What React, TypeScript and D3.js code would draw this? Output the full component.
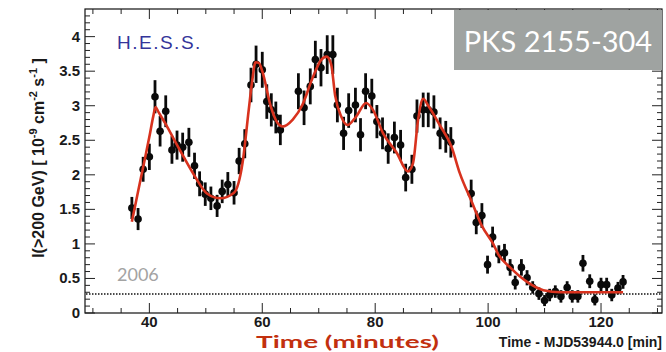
import React, { Component } from "react";
import * as d3 from "d3";

// flux points (minutes after MJD53944.0, 10^-9 cm^-2 s^-1)
const times = [36.9, 38.0, 38.9, 40.0, 41.0, 41.9, 42.9, 44.0, 44.9, 45.9,
  47.0, 48.0, 48.9, 49.9, 50.9, 52.0, 52.9, 53.9, 55.0, 55.9,
  56.9, 58.0, 58.9, 60.0, 60.8, 61.6, 62.4, 63.2, 66.4, 67.4,
  68.5, 69.4, 70.4, 71.5, 72.5, 73.3, 74.4, 75.3, 76.5, 77.4,
  78.3, 79.4, 80.3, 81.3, 82.3, 83.4, 84.5, 85.4, 86.5, 87.4,
  88.5, 89.4, 90.4, 91.5, 92.5, 93.4, 97.0, 97.9, 98.9, 99.9,
  100.8, 101.9, 102.9, 103.9, 104.8, 105.9, 106.9, 107.9, 109.0, 110.0,
  110.9, 111.9, 112.9, 114.0, 114.9, 115.9, 116.8, 118.0, 118.9, 120.0,
  121.0, 121.9, 123.0, 123.9];
const flux = [1.52, 1.36, 2.08, 2.26, 3.13, 2.63, 2.92, 2.36, 2.43, 2.40,
  2.47, 2.13, 1.87, 1.72, 1.66, 1.55, 1.76, 1.86, 1.74, 2.20,
  2.45, 3.30, 3.60, 3.52, 3.06, 2.94, 2.83, 2.65, 3.21, 2.97,
  3.28, 3.67, 3.55, 3.74, 3.74, 3.01, 2.60, 2.93, 3.01, 2.58,
  3.21, 3.14, 2.77, 2.60, 2.38, 2.54, 2.43, 1.96, 2.08, 2.85,
  2.94, 2.94, 2.91, 2.60, 2.55, 2.47, 1.73, 1.31, 1.41, 0.70,
  1.10, 0.85, 0.87, 0.66, 0.44, 0.66, 0.51, 0.37, 0.28, 0.18,
  0.26, 0.31, 0.24, 0.37, 0.24, 0.24, 0.72, 0.46, 0.19, 0.41,
  0.41, 0.26, 0.36, 0.45];
const errs = [0.16, 0.16, 0.18, 0.19, 0.24, 0.22, 0.23, 0.20, 0.21, 0.21,
  0.21, 0.19, 0.18, 0.17, 0.17, 0.16, 0.17, 0.18, 0.17, 0.19,
  0.21, 0.25, 0.27, 0.26, 0.25, 0.24, 0.23, 0.22, 0.26, 0.25,
  0.26, 0.27, 0.27, 0.28, 0.28, 0.25, 0.24, 0.25, 0.25, 0.24,
  0.26, 0.25, 0.24, 0.23, 0.22, 0.23, 0.22, 0.20, 0.21, 0.24,
  0.25, 0.25, 0.24, 0.23, 0.23, 0.22, 0.20, 0.17, 0.18, 0.13,
  0.15, 0.13, 0.13, 0.12, 0.10, 0.12, 0.11, 0.09, 0.09, 0.08,
  0.09, 0.09, 0.09, 0.09, 0.09, 0.09, 0.12, 0.10, 0.08, 0.10,
  0.10, 0.09, 0.09, 0.10];

// fitted model curve
const fitTimes = [36.9, 38.0, 39.0, 40.0, 40.7, 41.1, 41.6, 43.0, 44.5, 46.0,
  47.9, 50.2, 52.6, 55.0, 56.5, 57.6, 58.2, 58.8,
  59.4, 60.0, 61.5, 62.7, 63.6, 65.4, 67.1, 68.9, 70.4, 71.4,
  72.2, 72.9, 74.0, 75.1, 76.6, 78.4, 79.6, 81.4, 83.8, 85.8,
  86.7, 87.6, 88.5, 89.4, 91.5, 93.5, 95.0, 97.1, 98.9, 100.9, 101.8,
  103.9, 106.9, 109.8, 112.8, 118.0, 123.9];
const fitFlux = [1.32, 1.76, 2.15, 2.55, 2.85, 2.98, 2.91, 2.72, 2.49, 2.27,
  2.00, 1.73, 1.66, 1.74, 2.17, 2.94, 3.35, 3.63,
  3.62, 3.50, 2.99, 2.75, 2.70, 2.80, 3.01, 3.40, 3.66, 3.71,
  3.60, 3.15, 2.84, 2.72, 2.84, 3.04, 2.94, 2.60, 2.32, 2.05,
  2.17, 2.80, 3.10, 3.00, 2.71, 2.41, 2.02, 1.61, 1.26, 1.00, 0.85,
  0.66, 0.45, 0.33, 0.30, 0.30, 0.30];

const xTicks = [40, 60, 80, 100, 120];
const yTicks = [0, 0.5, 1, 1.5, 2, 2.5, 3, 3.5, 4];
const yTickLabels = ["0", "0.5", "1", "1.5", "2", "2.5", "3", "3.5", "4"];
const baseline2006 = 0.275;

class App extends Component {
  svgRef = React.createRef<SVGSVGElement>();

  componentDidMount() {
    var left = 85, right = 662, top = 9, bottom = 313;
    var svg = d3.select(this.svgRef.current);
    svg.selectAll("*").remove();

    const x = d3.scaleLinear().domain([28.6, 130.8]).range([left, right]);
    const y = d3.scaleLinear().domain([0, 4.4]).range([bottom, top]);

    // frame
    svg.append("rect").attr("x", left).attr("y", top)
      .attr("width", right - left).attr("height", bottom - top)
      .attr("fill", "white").attr("stroke", "#111").attr("stroke-width", 1.2);

    // ticks on all four sides, pointing inward
    var xMinor = d3.range(30, 131, 5);
    var g = svg.append("g").attr("stroke", "#222").attr("stroke-width", 1);
    xMinor.forEach(function (t) {
      var len = t % 20 === 0 ? 10 : 5;
      g.append("line").attr("x1", x(t)).attr("x2", x(t)).attr("y1", bottom).attr("y2", bottom - len);
      g.append("line").attr("x1", x(t)).attr("x2", x(t)).attr("y1", top).attr("y2", top + len);
    });
    var yMinor = d3.range(0, 44).map(function (i) { return i / 10; });
    yMinor.forEach(function (v, i) {
      var len = i % 5 === 0 ? 10 : 5;
      g.append("line").attr("y1", y(v)).attr("y2", y(v)).attr("x1", left).attr("x2", left + len);
      g.append("line").attr("y1", y(v)).attr("y2", y(v)).attr("x1", right).attr("x2", right - len);
    });

    // tick labels
    svg.selectAll(".xl").data(xTicks).join("text").attr("class", "xl")
      .attr("x", function (d) { return x(d); }).attr("y", 327)
      .attr("text-anchor", "middle")
      .style("font", "bold 15px 'Liberation Sans', Arial, sans-serif").attr("fill", "#1a1a1a")
      .text(function (d) { return d; });
    svg.selectAll(".yl").data(yTicks).join("text").attr("class", "yl")
      .attr("x", 80).attr("y", function (d) { return y(d) + 5; })
      .attr("text-anchor", "end")
      .style("font", "bold 15px 'Liberation Sans', Arial, sans-serif").attr("fill", "#1a1a1a")
      .text(function (d, i) { return yTickLabels[i]; });

    // dotted 2006 baseline
    svg.append("line").attr("x1", left + 1).attr("x2", right - 1)
      .attr("y1", y(baseline2006)).attr("y2", y(baseline2006))
      .attr("stroke", "#111").attr("stroke-width", 1.5).attr("stroke-dasharray", "1.5,1.5");

    svg.append("text").attr("x", 117).attr("y", 281)
      .style("font", "18px Lato, 'Open Sans', sans-serif").attr("fill", "#a3a3a3").text("2006");

    svg.append("text").attr("x", 117).attr("y", 49)
      .style("font", "19px 'Liberation Sans', Arial, sans-serif").style("letter-spacing", "1.5px")
      .attr("fill", "#34349a").text("H.E.S.S.");

    // error bars + points
    const pts = times.map(function (t, i) { return { t: t, f: flux[i], e: errs[i] }; });
    svg.selectAll(".eb").data(pts).join("line").attr("class", "eb")
      .attr("x1", function (d) { return x(d.t); }).attr("x2", function (d) { return x(d.t); })
      .attr("y1", function (d) { return y(d.f - d.e); }).attr("y2", function (d) { return y(d.f + d.e); })
      .attr("stroke", "#0a0a0a").attr("stroke-width", 2.8);
    svg.selectAll(".pt").data(pts).join("circle").attr("class", "pt")
      .attr("cx", function (d) { return x(d.t); }).attr("cy", function (d) { return y(d.f); })
      .attr("r", 3.8).attr("fill", "#0a0a0a");

    // fit curve
    const line = d3.line<number>()
      .x(function (d) { return x(d); })
      .y(function (d, i) { return y(fitFlux[i]); })
      .curve(d3.curveMonotoneX);
    svg.append("path").attr("d", line(fitTimes))
      .attr("fill", "none").attr("stroke", "#d8321e").attr("stroke-width", 2.6)
      .attr("stroke-linejoin", "round");

    // source box
    svg.append("rect").attr("x", 454).attr("y", 10).attr("width", 208).attr("height", 60)
      .attr("fill", "#9fa3a1");
    svg.append("text").attr("x", 558).attr("y", 52).attr("text-anchor", "middle")
      .style("font", "29px Lato, 'Open Sans', sans-serif").attr("fill", "white").text("PKS 2155-304");

    // axis titles
    var yt = svg.append("text").attr("transform", "translate(44,158) rotate(-90)")
      .attr("text-anchor", "middle")
      .style("font", "bold 16px 'Liberation Sans', Arial, sans-serif").attr("fill", "#1a1a1a");
    yt.append("tspan").text("I(>200 GeV) [ 10");
    yt.append("tspan").attr("dy", -7).style("font-size", "11px").text("-9");
    yt.append("tspan").attr("dy", 7).text(" cm");
    yt.append("tspan").attr("dy", -7).style("font-size", "11px").text("-2");
    yt.append("tspan").attr("dy", 7).text(" s");
    yt.append("tspan").attr("dy", -7).style("font-size", "11px").text("-1");
    yt.append("tspan").attr("dy", 7).text(" ]");

    svg.append("text").attr("x", 662).attr("y", 347).attr("text-anchor", "end")
      .style("font", "bold 14px 'Liberation Sans', Arial, sans-serif").attr("fill", "#1a1a1a")
      .text("Time - MJD53944.0 [min]");

    svg.append("text").attr("x", 256).attr("y", 347.5)
      .attr("textLength", 183).attr("lengthAdjust", "spacingAndGlyphs")
      .style("font", "bold 17px Lato, 'Open Sans', sans-serif").attr("fill", "#c2300f")
      .text("Time (minutes)");
  }

  render() {
    return (
      <div style={{ position: "absolute", left: 0, top: 0 }}>
        <svg ref={this.svgRef} width={666} height={352} style={{ display: "block", background: "white" }}></svg>
      </div>
    );
  }
}

export default App;
